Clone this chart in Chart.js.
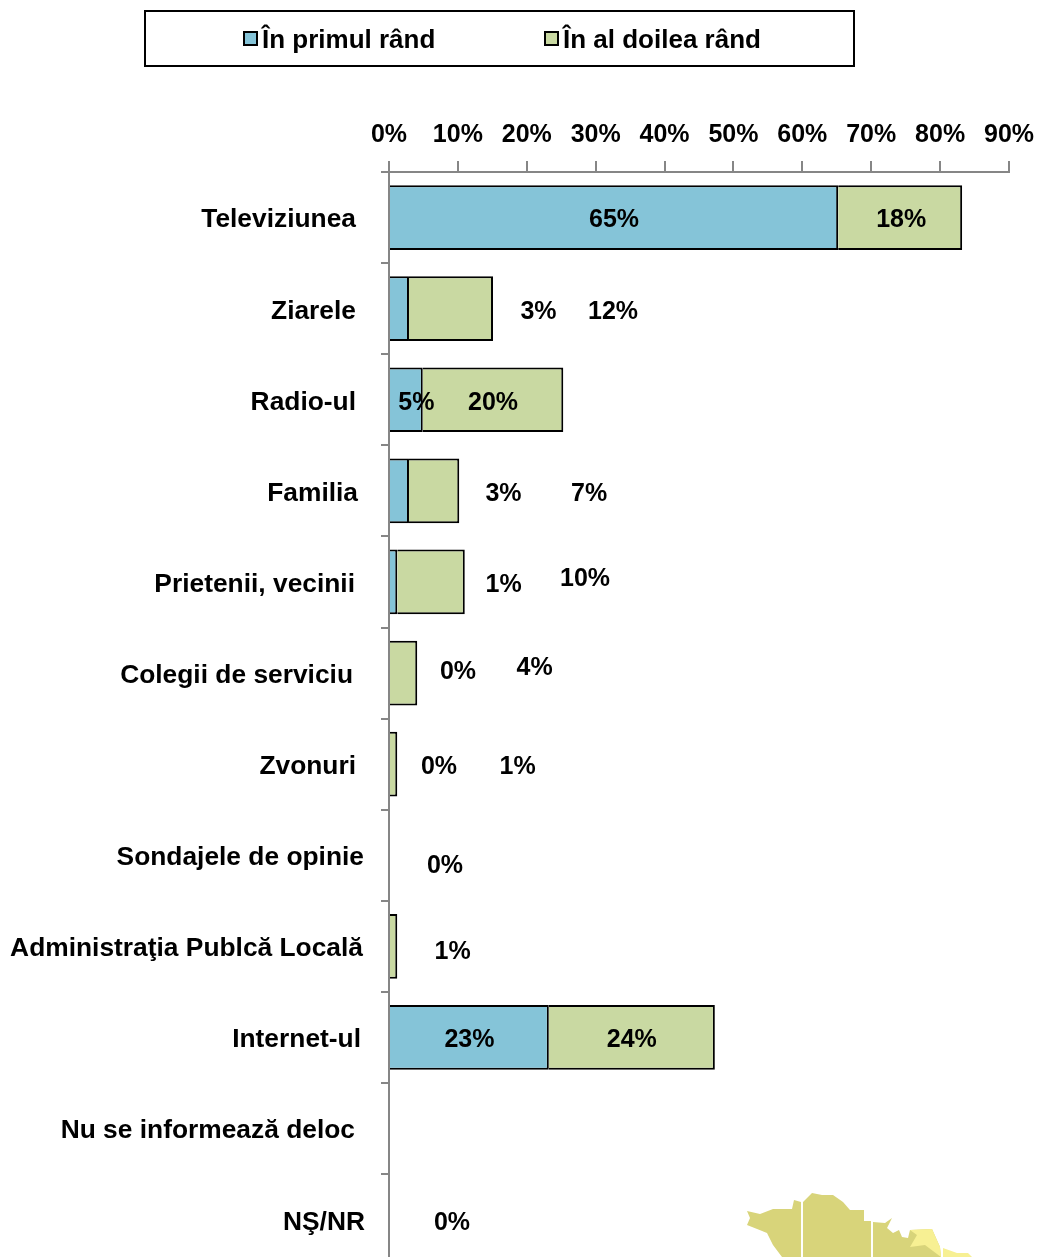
<!DOCTYPE html>
<html>
<head>
<meta charset="utf-8">
<script src="https://cdn.jsdelivr.net/npm/chart.js@4"></script>
<style>
  html, body { margin: 0; padding: 0; background: #fff; overflow: hidden; }
  #wrap { position: relative; width: 1041px; height: 1257px; overflow: hidden; }
  #map { position: absolute; left: 0; top: 0; }
  #chartBox { position: absolute; left: 0; top: 0; width: 1041px; height: 1300px; }
</style>
</head>
<body>
<div id="wrap">
  <svg id="map" width="1041" height="1257">
    <polygon fill="#D8D47A" points="747,1211 760,1214 773,1209 792,1209 794,1200 801,1202 801,1257 782,1257 773,1245 767,1233 747,1225 750,1218"/>
    <polygon fill="#D8D47A" points="803,1202 812,1193 822,1195 833,1195 843,1202 850,1210 864,1210 864,1221 871,1221 871,1257 803,1257"/>
    <polygon fill="#D8D47A" points="873,1222 885,1223 892,1218 887,1228 893,1233 899,1230 902,1237 908,1238 910,1230 932,1229 940,1247 941,1257 873,1257"/>
    <polygon fill="#F7F093" points="910,1230 932,1229 940,1247 941,1257 925,1245 910,1247 917,1235"/>
    <polygon fill="#F7F093" points="943,1248 957,1253 968,1253 972,1257 943,1257"/>
  </svg>
  <div id="chartBox"><canvas id="chart"></canvas></div>
</div>
<script>
const categories = ["Televiziunea", "Ziarele", "Radio-ul", "Familia", "Prietenii, vecinii", "Colegii de serviciu", "Zvonuri", "Sondajele de opinie", "Administraţia Publcă Locală", "Internet-ul", "Nu se informează deloc", "NŞ/NR"];
const seriesNames = ["În primul rând", "În al doilea rând"];
const primulRand = [65.2, 2.9, 4.9, 2.9, 1.2, 0, 0, 0, 0, 23.2, 0, 0];
const alDoileaRand = [18, 12.2, 20.4, 7.3, 9.8, 4.1, 1.2, 0, 1.2, 24.1, 0, 0];
const primulShown = [true, true, true, true, true, true, true, true, false, true, false, true];
const doileaShown = [true, true, true, true, true, true, true, false, true, true, false, false];
const tickValues = [0, 10, 20, 30, 40, 50, 60, 70, 80, 90];

// manual nudges, the original has its labels dragged around by hand
const primulDx = [0, 139, 10, 104, 110, 69, 50, 56, 0, 0, 0, 63];
const primulDy = [2, 2, 2, 2, 2, -2, 2, 10, 0, 2, 0, 2];
const doileaDx = [1, 162, 0, 155, 154, 131, 124, 0, 59, 0, 0, 0];
const doileaDy = [2, 2, 2, 2, -4, -6, 2, 0, 5, 2, 0, 0];
const categoryRight = [356, 356, 356, 358, 355, 353, 356, 364, 363, 361, 355, 365];

const FONT = 'bold 25px "Liberation Sans", Arial, sans-serif';

const barLabels = {
  id: "barLabels",
  afterDraw(chart) {
    const ctx = chart.ctx;
    ctx.save();
    ctx.font = FONT;
    ctx.fillStyle = "#000";
    ctx.textBaseline = "middle";
    ctx.textAlign = "center";
    drawSeriesLabels(chart, 0, primulRand, primulShown, primulDx, primulDy);
    drawSeriesLabels(chart, 1, alDoileaRand, doileaShown, doileaDx, doileaDy);
    ctx.restore();
  },
};

function drawSeriesLabels(chart, index, values, shown, dx, dy) {
  let meta = chart.getDatasetMeta(index);
  for (let i = 0; i < values.length; i++) {
    if (!shown[i]) continue;
    let p = meta.data[i].getCenterPoint();
    chart.ctx.fillText(Math.round(values[i]) + "%", p.x + dx[i], p.y + dy[i] + 1);
  }
}

// the original text is a little wider than Liberation Sans, so stretch it
function stretchedText(ctx, text, x, y, stretch) {
  ctx.save();
  ctx.translate(x, y);
  ctx.scale(stretch, 1);
  ctx.fillText(text, 0, 0);
  ctx.restore();
}

const categoryLabels = {
  id: "categoryLabels",
  afterDraw(chart) {
    const ctx = chart.ctx;
    const yScale = chart.scales.y;
    ctx.save();
    ctx.font = FONT;
    ctx.fillStyle = "#000";
    ctx.textBaseline = "middle";
    ctx.textAlign = "right";
    for (let i = 0; i < categories.length; i++) {
      stretchedText(ctx, categories[i], categoryRight[i], yScale.getPixelForValue(i) + 3, 1.054);
    }
    ctx.restore();
  },
};

const legendBox = {
  id: "legendBox",
  afterDraw(chart) {
    const ctx = chart.ctx;
    const colors = [chart.data.datasets[0].backgroundColor, chart.data.datasets[1].backgroundColor];
    const swatchX = [243, 544];
    ctx.save();
    ctx.strokeStyle = "#000";
    ctx.lineWidth = 2;
    ctx.strokeRect(145, 11, 709, 55);
    ctx.font = FONT;
    ctx.textBaseline = "middle";
    ctx.textAlign = "left";
    for (let i = 0; i < seriesNames.length; i++) {
      ctx.fillStyle = colors[i];
      ctx.fillRect(swatchX[i], 31, 15, 15);
      ctx.lineWidth = 2;
      ctx.strokeRect(swatchX[i] + 1, 32, 13, 13);
      ctx.fillStyle = "#000";
      stretchedText(ctx, seriesNames[i], swatchX[i] + 19, 41, 1.04);
    }
    ctx.restore();
  },
};

function zerolessBorder(ctx) {
  return ctx.raw > 0 ? 2 : 0;
}

new Chart(document.getElementById("chart"), {
  type: "bar",
  data: {
    labels: categories,
    datasets: [
      { label: seriesNames[0], data: primulRand, backgroundColor: "#85C4D8", borderColor: "#000", borderWidth: zerolessBorder, borderSkipped: "start", inflateAmount: 0 },
      { label: seriesNames[1], data: alDoileaRand, backgroundColor: "#C9D9A2", borderColor: "#000", borderWidth: zerolessBorder, borderSkipped: "start", inflateAmount: 0 },
    ],
  },
  options: {
    indexAxis: "y",
    responsive: true,
    maintainAspectRatio: false,
    animation: false,
    layout: { padding: { top: 120, right: 32, bottom: 34.8, left: 0 } },
    datasets: { bar: { barPercentage: 0.71, categoryPercentage: 1 } },
    plugins: { legend: { display: false }, tooltip: { enabled: false } },
    scales: {
      x: {
        position: "top",
        stacked: true,
        min: 0,
        max: 90,
        afterFit(scale) {
          scale.height = 52;
          scale.paddingRight = 0;
          scale.paddingLeft = 0;
        },
        afterBuildTicks(scale) { scale.ticks = tickValues.map((v) => ({ value: v })); },
        grid: { drawOnChartArea: false, color: "#868686", lineWidth: 2, tickLength: 11 },
        border: { color: "#868686", width: 2, z: 1 },
        ticks: {
          maxRotation: 0,
          autoSkip: false,
          padding: 11,
          color: "#000",
          font: { family: '"Liberation Sans", Arial, sans-serif', size: 25, weight: "bold" },
          callback: (v) => v + "%",
        },
      },
      y: {
        stacked: true,
        afterFit(scale) { scale.width = 389; },
        grid: { drawOnChartArea: false, color: "#868686", lineWidth: 2, tickLength: 8, offset: true },
        border: { color: "#868686", width: 2, z: 1 },
        ticks: { display: false },
      },
    },
  },
  plugins: [barLabels, categoryLabels, legendBox],
});
</script>
</body>
</html>
